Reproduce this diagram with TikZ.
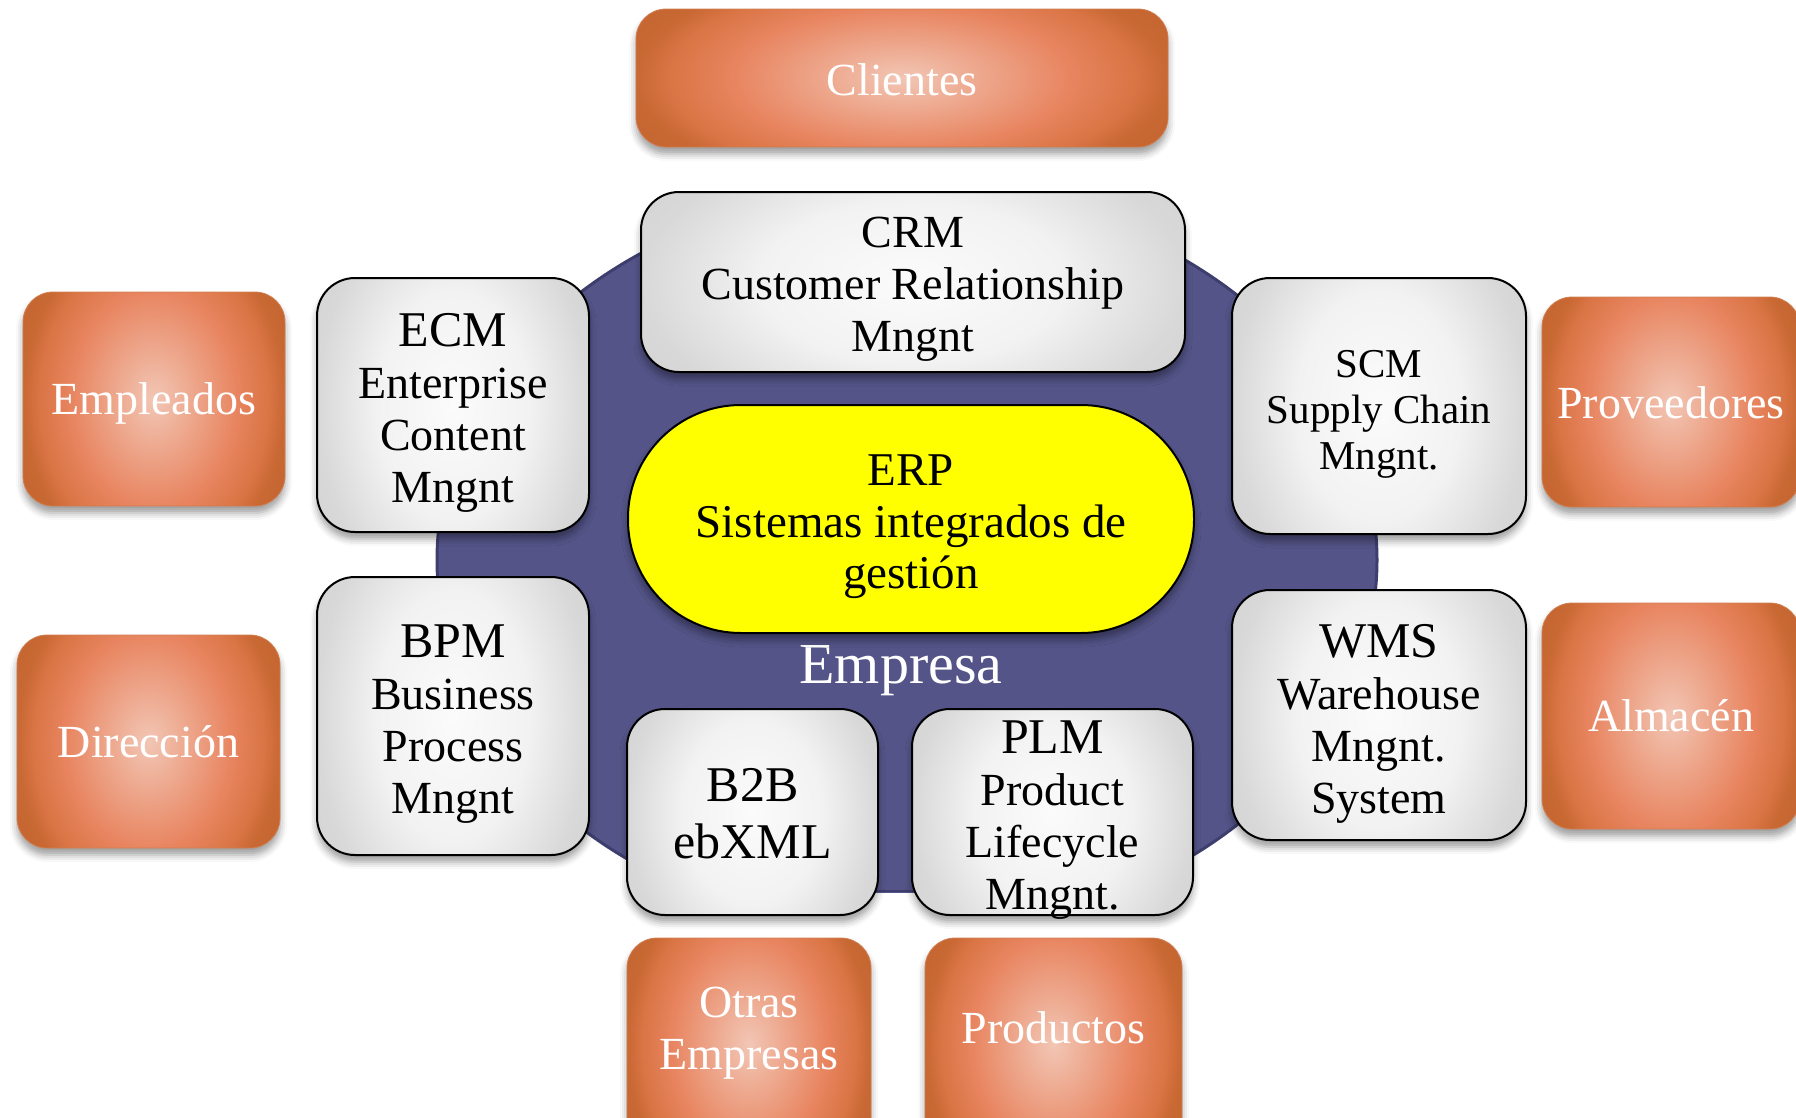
\documentclass[tikz,border=0pt]{standalone}
\usepackage{fontspec}
\setmainfont{Liberation Serif}
\usetikzlibrary{shadows.blur,calc}
\definecolor{oc1}{HTML}{F2C6B5}
\definecolor{oc2}{HTML}{E8845F}
\definecolor{oc3}{HTML}{D97444}
\definecolor{oc4}{HTML}{C86833}
\definecolor{oc5}{HTML}{BA5B29}
\definecolor{gc1}{HTML}{FBFBFB}
\definecolor{gc2}{HTML}{F2F2F2}
\definecolor{gc3}{HTML}{D8D8D8}
\definecolor{gc4}{HTML}{CCCCCC}
\definecolor{erpyellow}{HTML}{FFFF00}
\definecolor{empblue}{HTML}{545489}
\definecolor{empborder}{HTML}{3E3E6E}
\pgfdeclareradialshading{orangeshade}{\pgfpoint{0bp}{0bp}}{color(0bp)=(oc1); color(16bp)=(oc2); color(22bp)=(oc3); color(25bp)=(oc4); color(40bp)=(oc5)}
\pgfdeclareradialshading{grayshade}{\pgfpoint{0bp}{0bp}}{color(0bp)=(gc1); color(14bp)=(gc2); color(25bp)=(gc3); color(40bp)=(gc4)}
\newcommand{\fsbody}{\fontsize{46}{52}\selectfont}
\newcommand{\fsbig}{\fontsize{50}{52}\selectfont}
\newcommand{\fssmall}{\fontsize{41}{46}\selectfont}
\newcommand{\fsbb}{\fontsize{50}{57}\selectfont}
\newcommand{\fserp}{\fontsize{47}{51.5}\selectfont}
\newcommand{\fsemp}{\fontsize{58}{60}\selectfont}
\tikzset{
  softshadow/.style={blur shadow={shadow xshift=0pt, shadow yshift=-7pt, shadow blur radius=7pt, shadow opacity=38}},
  stretchshade/.style={path picture={
      \shade[shading=#1]
        ($(path picture bounding box.north west)!-0.3!(path picture bounding box.south west)$)
        rectangle
        ($(path picture bounding box.south east)!-0.3!(path picture bounding box.north east)$);}},
  obox/.style={rounded corners=30pt, stretchshade=orangeshade, draw=oc4!85, line width=0.8pt,
    inner sep=0pt, softshadow},
  otext/.style={text=white, font=\fsbody, align=center, inner sep=0pt},
  gbox/.style={rounded corners=38pt, stretchshade=grayshade, draw=black, line width=2pt,
    inner sep=0pt, softshadow},
  gtext/.style={text=black, font=\fsbody, align=center, inner sep=0pt},
  erpbox/.style={rounded corners=113pt, fill=erpyellow, draw=black, line width=2pt,
    inner sep=0pt, softshadow},
}
\begin{document}
\begin{tikzpicture}[x=1pt, y=-1pt]
\useasboundingbox (0,0) rectangle (1796,1117);
% background ellipse "Empresa"
\begin{scope}
  \clip (0,200) rectangle (1796,892);
  \draw[fill=empblue, draw=empborder, line width=3pt] (907,560) ellipse [x radius=470pt, y radius=372pt];
\end{scope}
\draw[empborder, line width=2pt] (697,891) -- (1117,891);
\node[text=white, font=\fsemp, inner sep=0pt] (empresa) at (901,671) {Empresa};
% central ERP
\node[erpbox, minimum width=566pt, minimum height=228pt] (erp) at (911,519) {};
\node[gtext, font=\fserp] (erptext) at ([yshift=-8pt]erp.center) {ERP\\Sistemas integrados de\\gestión};
% grey systems
\node[gbox, minimum width=544pt, minimum height=180pt] (crm) at (913,282) {};
\node[gtext] (crmtext) at ([yshift=-7pt]crm.center) {CRM\\Customer Relationship\\Mngnt};
\node[gbox, minimum width=272pt, minimum height=254pt] (ecm) at (453,405) {};
\node[gtext] (ecmtext) at ([yshift=-8pt]ecm.center) {{\fsbig ECM}\\Enterprise\\Content\\Mngnt};
\node[gbox, minimum width=294pt, minimum height=256pt] (scm) at (1379,406) {};
\node[gtext, font=\fssmall] (scmtext) at ([yshift=-8pt]scm.center) {SCM\\Supply Chain\\Mngnt.};
\node[gbox, minimum width=294pt, minimum height=250pt] (wms) at (1379,715) {};
\node[gtext] (wmstext) at ([yshift=-9pt]wms.center) {{\fsbig WMS}\\Warehouse\\Mngnt.\\System};
\node[gbox, minimum width=272pt, minimum height=278pt] (bpm) at (453,716) {};
\node[gtext] (bpmtext) at ([yshift=-8pt]bpm.center) {{\fsbig BPM}\\Business\\Process\\Mngnt};
\node[gbox, minimum width=251pt, minimum height=206pt] (b2b) at (752.5,812) {};
\node[gtext, font=\fsbb] (b2btext) at ([yshift=-2pt]b2b.center) {B2B\\ebXML};
\node[gbox, minimum width=281pt, minimum height=206pt] (plm) at (1052.5,812) {};
\node[gtext] (plmtext) at ([yshift=-8pt]plm.center) {{\fsbig PLM}\\Product\\Lifecycle\\Mngnt.};
% orange actors
\node[obox, minimum width=532pt, minimum height=138pt] (clientes) at (902,78) {};
\node[otext] (clientestext) at ([yshift=-2pt]clientes.center) {Clientes};
\node[obox, minimum width=262pt, minimum height=214pt] (empleados) at (154,399) {};
\node[otext] (empleadostext) at ([yshift=-4pt]empleados.center) {Empleados};
\node[obox, minimum width=258pt, minimum height=210pt] (proveedores) at (1671,402) {};
\node[otext] (proveedorestext) at ([yshift=-1pt]proveedores.center) {Proveedores};
\node[obox, minimum width=258pt, minimum height=226pt] (almacen) at (1671,716) {};
\node[otext] (almacentext) at (almacen.center) {Almacén};
\node[obox, minimum width=263pt, minimum height=213pt] (direccion) at (148.5,741.5) {};
\node[otext] (direcciontext) at (direccion.center) {Dirección};
\node[obox, minimum width=244pt, minimum height=212pt] (otras) at (749,1044) {};
\node[otext] (otrastext) at (749,1033) {Otras\\Empresas};
\node[obox, minimum width=257pt, minimum height=212pt] (productos) at (1053.5,1044) {};
\node[otext] (productostext) at (1053.5,1028) {Productos};
\end{tikzpicture}
\end{document}
